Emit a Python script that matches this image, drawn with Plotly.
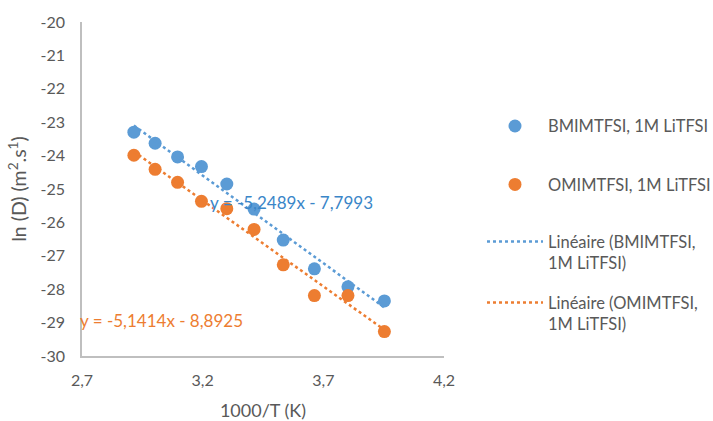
import numpy as np
import plotly.graph_objects as go

# Data
x_vals = [2.915, 3.003, 3.096, 3.195, 3.300, 3.413, 3.534, 3.663, 3.802, 3.953]
bmim_y = [-23.30, -23.63, -24.04, -24.33, -24.85, -25.60, -26.53, -27.39, -27.93, -28.35]
omim_y = [-23.99, -24.41, -24.80, -25.37, -25.59, -26.21, -27.27, -28.19, -28.19, -29.27]

bmim_fit = (-5.2489, -7.7993)
omim_fit = (-5.1414, -8.8925)

x_ticks = [2.7, 3.2, 3.7, 4.2]
x_ticktext = ["2,7", "3,2", "3,7", "4,2"]
y_ticks = [-30, -29, -28, -27, -26, -25, -24, -23, -22, -21, -20]
y_ticktext = [str(v) for v in y_ticks]

BLUE = "#5B9BD5"
ORANGE = "#ED7D31"
GRAY = "#595959"
FONT = "Lato"

xf = np.array([min(x_vals), max(x_vals)])

fig = go.Figure()
fig.add_trace(go.Scatter(x=x_vals, y=bmim_y, mode="markers", name="BMIMTFSI, 1M LiTFSI",
                         marker=dict(color=BLUE, size=13), legend="legend", legendgroup="g0"))
fig.add_trace(go.Scatter(x=x_vals, y=omim_y, mode="markers", name="OMIMTFSI, 1M LiTFSI",
                         marker=dict(color=ORANGE, size=13), legend="legend", legendgroup="g1"))
fig.add_trace(go.Scatter(x=xf, y=bmim_fit[0] * xf + bmim_fit[1], mode="lines",
                         name="Linéaire (BMIMTFSI,<br>1M LiTFSI)",
                         line=dict(color=BLUE, width=2.5, dash="dot"), legend="legend2", legendgroup="g2"))
fig.add_trace(go.Scatter(x=xf, y=omim_fit[0] * xf + omim_fit[1], mode="lines",
                         name="Linéaire (OMIMTFSI,<br>1M LiTFSI)",
                         line=dict(color=ORANGE, width=2.5, dash="dot"), legend="legend2", legendgroup="g3"))

fig.add_annotation(x=3.222, y=-25.39, xref="x", yref="y", xanchor="left", yanchor="middle",
                   text="y = -5,2489x - 7,7993", showarrow=False,
                   font=dict(family=FONT, size=17, color="#3A86C8"))
fig.add_annotation(x=0.0, y=-28.94, xref="paper", yref="y", xanchor="left", yanchor="middle",
                   xshift=-4, text="y = -5,1414x - 8,8925", showarrow=False,
                   font=dict(family=FONT, size=17, color=ORANGE))

axis_common = dict(showgrid=False, zeroline=False, showline=True, linecolor="#BFBFBF",
                   linewidth=1.5, ticks="", automargin=False,
                   tickfont=dict(family=FONT, size=16, color=GRAY))

fig.update_layout(
    width=713, height=421,
    margin=dict(l=82, r=269, t=22, b=65),
    plot_bgcolor="white", paper_bgcolor="white",
    font=dict(family=FONT, color=GRAY),
    xaxis=dict(range=[2.7, 4.2], tickvals=x_ticks, ticktext=x_ticktext, ticklabelstandoff=9,
               title=dict(text="1000/T (K)", font=dict(family=FONT, size=18, color=GRAY), standoff=16),
               **axis_common),
    yaxis=dict(range=[-30, -20], tickvals=y_ticks, ticktext=y_ticktext, ticklabelstandoff=12,
               title=dict(text="ln (D) (m<sup>2</sup>.s<sup>1</sup>)", font=dict(family=FONT, size=19.5, color=GRAY), standoff=9),
               **axis_common),
    legend=dict(xref="container", yref="container", x=0.676, y=0.7416,
                xanchor="left", yanchor="top", itemwidth=56,
                tracegroupgap=34, font=dict(family=FONT, size=16.5, color=GRAY),
                bgcolor="rgba(0,0,0,0)"),
    legend2=dict(xref="container", yref="container", x=0.676, y=0.467,
                 xanchor="left", yanchor="top", itemwidth=56, valign="top",
                 tracegroupgap=15, font=dict(family=FONT, size=16.5, color=GRAY),
                 bgcolor="rgba(0,0,0,0)"),
    showlegend=True,
)

fig.write_html("out.html", config={"displayModeBar": False},
               post_script="document.body.style.margin='0px';")
